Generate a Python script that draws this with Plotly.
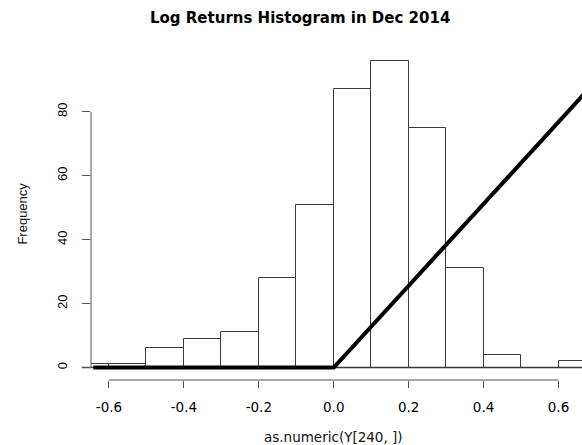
import plotly.graph_objects as go

# Histogram bins (bin centres, width 0.1) and counts
bin_centers = [-0.65, -0.55, -0.45, -0.35, -0.25, -0.15, -0.05, 0.05, 0.15, 0.25, 0.35, 0.45, 0.55, 0.65]
counts = [1, 1, 6, 9, 11, 28, 51, 87, 96, 75, 31, 4, 0, 2]
bin_width = 0.1

# Thick overlay line (hinge)
line_x = [-0.642, 0.0, 0.70]
line_y = [0.0, 0.0, 89.6]

x_ticks = [-0.6, -0.4, -0.2, 0.0, 0.2, 0.4, 0.6]
x_tick_labels = ["-0.6", "-0.4", "-0.2", "0.0", "0.2", "0.4", "0.6"]
y_ticks = [0, 20, 40, 60, 80]
y_tick_labels = ["0", "20", "40", "60", "80"]

title_text = "Log Returns Histogram in Dec 2014"
x_title = "as.numeric(Y[240, ])"
y_title = "Frequency"

AX = "#555555"

fig = go.Figure()
fig.add_trace(go.Bar(
    x=bin_centers, y=counts, width=bin_width,
    marker=dict(color="rgba(0,0,0,0)", line=dict(color="#3a3a3a", width=1)),
    showlegend=False, hoverinfo="x+y",
))
fig.add_trace(go.Scatter(
    x=line_x, y=line_y, mode="lines",
    line=dict(color="black", width=4), showlegend=False,
))

W, H = 582, 445
L, R, T, B = 90.5, 0, 45.3, 445 - 380.1

fig.update_layout(
    width=W, height=H,
    margin=dict(l=L, r=R, t=T, b=B, pad=0),
    paper_bgcolor="white", plot_bgcolor="white",
    bargap=0,
    xaxis=dict(
        range=[-0.648, 0.6627], showgrid=False, zeroline=False, showline=False,
        tickmode="array", tickvals=x_ticks, ticktext=x_tick_labels,
        ticks="outside", ticklen=7, tickwidth=1, tickcolor=AX,
        tickfont=dict(family="DejaVu Sans", size=13.5, color="black"),
        ticklabelstandoff=8,
    ),
    yaxis=dict(
        range=[-3.88, 100.88], showgrid=False, zeroline=False, showline=False,
        tickmode="array", tickvals=y_ticks, ticktext=y_tick_labels,
        ticks="outside", ticklen=8, tickwidth=1, tickcolor=AX,
        tickangle=-90,
        tickfont=dict(family="Liberation Sans", size=13, color="black"),
        ticklabelstandoff=10,
    ),
    shapes=[
        # grey baseline at zero
        dict(type="line", xref="paper", yref="y", x0=-0.019, x1=1.0, y0=0, y1=0,
             line=dict(color="#9a9a9a", width=2), layer="below"),
        # R-style x axis line from first to last tick
        dict(type="line", xref="x", yref="paper", x0=x_ticks[0], x1=x_ticks[-1], y0=0, y1=0,
             line=dict(color=AX, width=1)),
        # R-style y axis line
        dict(type="line", xref="paper", yref="y", x0=0, x1=0, y0=y_ticks[0], y1=y_ticks[-1],
             line=dict(color=AX, width=1)),
    ],
    annotations=[
        dict(text="<b>" + title_text + "</b>", xref="paper", yref="paper",
             x=0.426, y=1.0815, xanchor="center", yanchor="middle", showarrow=False,
             font=dict(family="DejaVu Sans", size=15, color="black")),
        dict(text=x_title, xref="x", yref="paper", x=0.0, y=-0.169,
             xanchor="center", yanchor="middle", showarrow=False,
             font=dict(family="DejaVu Sans", size=13.5, color="#111111")),
        dict(text=y_title, xref="paper", yref="paper", x=-0.139, y=0.496,
             xanchor="center", yanchor="middle", textangle=-90, showarrow=False,
             font=dict(family="Liberation Sans", size=13, color="#111111")),
    ],
)

fig.write_html(
    "out.html",
    config={"displayModeBar": False},
    post_script="document.body.style.margin='0';document.body.style.overflow='hidden';",
)
